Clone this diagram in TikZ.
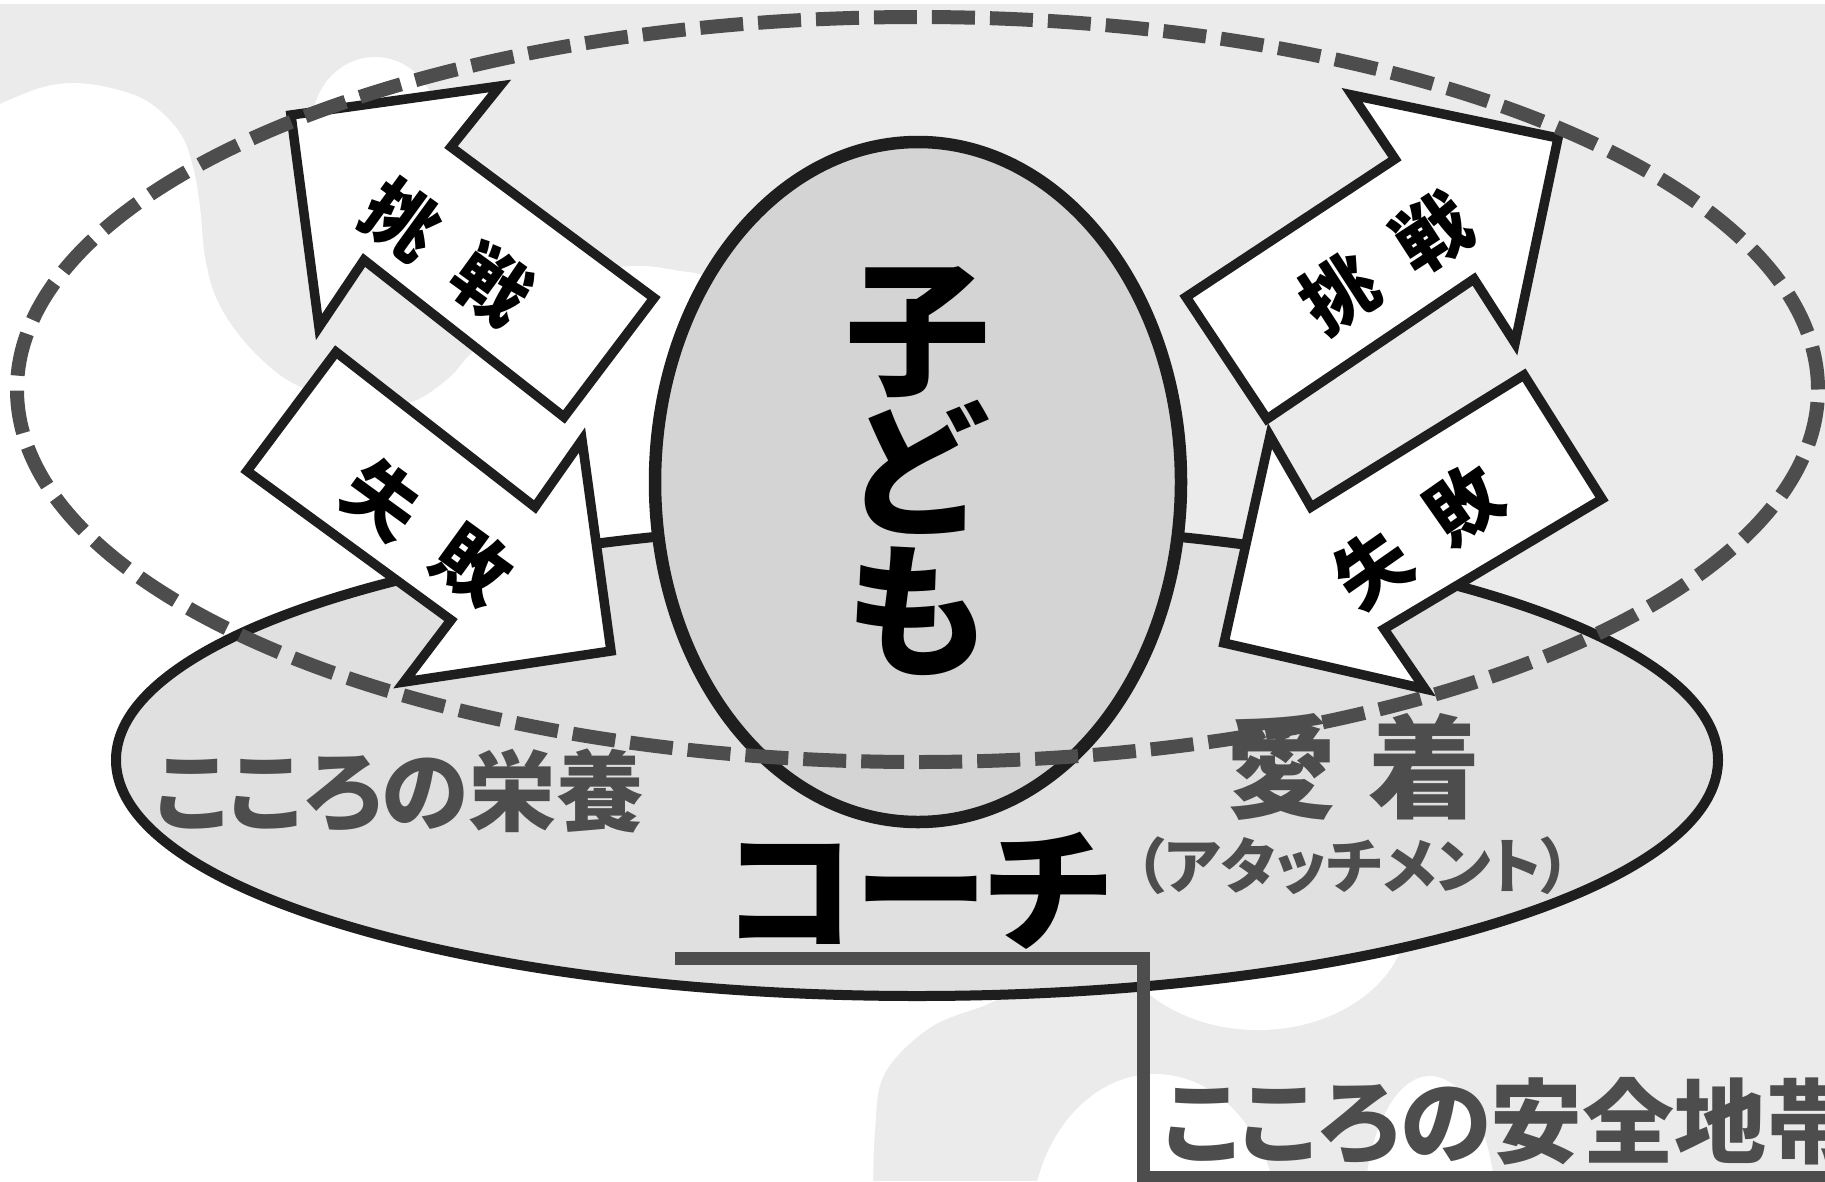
\documentclass[tikz,border=0pt]{standalone}
\usepackage{fontspec}
\newfontfamily\jp{Noto Sans CJK JP}
\newfontfamily\jpp{Noto Sans CJK JP}[RawFeature=+palt]
\usepackage{tikz}
\usetikzlibrary{shapes}
\usetikzlibrary{positioning}
\usetikzlibrary{calc}
\definecolor{fondgris}{HTML}{EBEBEB}
\definecolor{basegris}{HTML}{E0E0E0}
\definecolor{enfantgris}{HTML}{D4D4D4}
\definecolor{trait}{HTML}{1E1E1E}
\definecolor{textegris}{HTML}{4D4D4D}
\tikzstyle{nuage}=[fill=white]
\tikzstyle{base}=[ellipse,draw=trait,line width=10pt,fill=basegris,
        minimum width=1602pt,minimum height=472pt]
\tikzstyle{enfant}=[ellipse,draw=trait,line width=12.5pt,fill=enfantgris,
        minimum width=526pt,minimum height=680pt]
\tikzstyle{anneau}=[ellipse,draw=textegris,line width=14pt,
        dash pattern=on 43pt off 15pt,minimum width=1801pt,minimum height=745pt]
\tikzstyle{fleche}=[draw=trait,line width=9.5pt,fill=white]
\tikzstyle{motfleche}=[font=\jp\bfseries\fontsize{74pt}{74pt}\selectfont,inner sep=0pt]
\tikzstyle{grand}=[font=\jp\bfseries\fontsize{145pt}{141pt}\selectfont,align=center,inner sep=0pt]
\tikzstyle{coachmot}=[font=\jpp\bfseries\fontsize{134pt}{134pt}\selectfont,inner sep=0pt]
\tikzstyle{gris}=[text=textegris,inner sep=0pt]
\tikzstyle{lien}=[draw=textegris,line width=13pt]
\begin{document}
\begin{tikzpicture}[x=1pt,y=-1pt]
\useasboundingbox (0,0) rectangle (1825,1181);
\begin{scope}
\clip (0,0) rectangle (1825,1181);
\fill[fondgris] (0,0) rectangle (1825,1181);
\fill[nuage] (0,0) rectangle (1825,4);
%fond
\fill[nuage] (-20,1200) -- (-20,106) -- plot[smooth,tension=0.6] coordinates {(0,104) (40,88) (75,83) (115,89) (150,103) (180,133) (193,167) (200,207) (205,257) (217,300) (243,340) (277,373) (307,390) (345,405) (383,407) (417,400) (450,377) (477,348) (540,300) (600,272) (640,266) (680,271) (707,277) (740,300) (820,420) (900,700) (980,930) (1010,985) (990,1003) (931,1027) (885,1073) (875,1130) (873,1200)} -- cycle;
\fill[nuage] (375,125) ellipse [x radius=63pt,y radius=68pt];
\fill[nuage] (1258,915) ellipse [x radius=150pt,y radius=115pt];
\fill[nuage] (1155,1230) ellipse [x radius=124pt,y radius=156pt];
\fill[nuage] (1430,1215) ellipse [x radius=66pt,y radius=139pt];
\end{scope}
\node[base] (coachbase) at (917,760) {};
\node[enfant] (child) at (918,482) {};
%fleches
\draw[fleche] (291,115) -- (500,86) -- (451,147) -- (654,298) -- (564,417) -- (364,260) -- (319,327) -- cycle;
\draw[fleche] (336,352) -- (535,507) -- (582,440) -- (611,651) -- (404,682) -- (451,620) -- (247,471) -- cycle;
\draw[fleche] (1558,138) -- (1352,95) -- (1395,159) -- (1186,297) -- (1267,419) -- (1474,279) -- (1515,343) -- cycle;
\draw[fleche] (1524,375) -- (1311,507) -- (1270,436) -- (1224,643) -- (1425,689) -- (1384,629) -- (1602,499) -- cycle;
\node[anneau] (ring) at (917.5,389.5) {};
%textes
\node[motfleche,rotate=-36] (defiL) at (447,252) {挑\hspace{0.5em}戦};
\node[motfleche,rotate=-36] (echecL) at (428,532) {失\hspace{0.5em}敗};
\node[motfleche,rotate=33] (defiR) at (1386,263) {挑\hspace{0.5em}戦};
\node[motfleche,rotate=35] (echecR) at (1418,536) {失\hspace{0.5em}敗};
\node[grand] (kodomo) at (918,471) {子\\ど\\も};
\node[coachmot] (coach) at (918,891) {コーチ};
\node[gris,font=\jpp\bfseries\fontsize{88pt}{88pt}\selectfont] (eiyou) at (400,791) {こころの栄養};
\node[gris,font=\jpp\bfseries\fontsize{112pt}{112pt}\selectfont] (aichaku) at (1353,767) {愛\hspace{0.28em}着};
\node[gris,font=\jpp\bfseries\fontsize{60pt}{60pt}\selectfont] (attach) at (1353,866) {（アタッチメント）};
\node[gris,anchor=west,font=\jpp\bfseries\fontsize{92pt}{92pt}\selectfont] (anzen) at (1163,1121) {こころの安全地帯};
%lien
\coordinate (underS) at (675,958);
\coordinate (underC) at (1143,1177);
\coordinate (underE) at (1840,1177);
\draw[lien] (underS) -| (underC) -- (underE);
\end{tikzpicture}
\end{document}
